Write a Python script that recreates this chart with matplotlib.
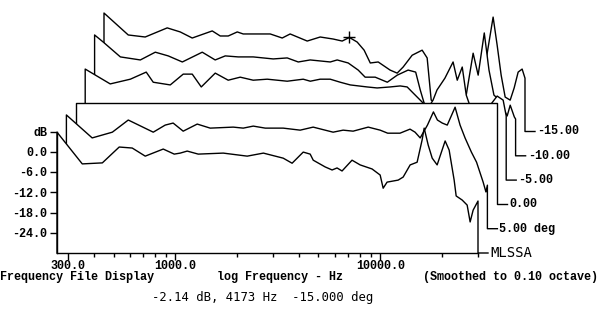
import matplotlib
matplotlib.use("Agg")
import matplotlib.pyplot as plt
from matplotlib.ticker import NullFormatter
import numpy as np

# Off-axis responses normalised to the on-axis one, front slice first.
slice_labels = ["MLSSA", "5.00 deg", "0.00", "-5.00", "-10.00", "-15.00"]

freq0 = [265, 352, 441, 533, 617, 714, 874, 989, 1058, 1144, 1295, 1715, 2245, 2692, 3364, 3717,
         4212, 4554, 4713, 5390, 5826, 6159, 6515, 7287, 7984, 9126, 9995, 10338, 10803, 12239,
         12943, 13999, 15140, 16014, 16386, 17143, 17936, 18957, 20741, 21694, 22950, 23475,
         25105, 26557, 27464, 28405, 30000]
db0 = [5.8, -3.6, -3.3, 1.4, 1.1, -1.3, 0.8, -0.7, -0.4, 0.2, -0.7, -0.4, -1.3, -0.4, -1.9, -3.4,
       -0.1, -0.7, -2.5, -4.5, -5.4, -4.8, -5.7, -2.5, -3.9, -5.1, -6.9, -10.8, -9.0, -8.4,
       -7.5, -3.9, -3.1, 3.5, 7.0, 2.0, -1.9, -3.9, 3.2, 0.5, -8.4, -13.1,
       -14.3, -15.8, -20.8, -17.3, -14.6]

freq1 = [265, 354, 444, 531, 703, 804, 879, 984, 1152, 1333, 1726, 1932, 2162, 2474, 3026, 3662,
         4237, 5302, 5933, 6637, 7865, 8993, 9787, 11238, 12579, 13310, 14100, 15300, 16360,
         17110, 18070, 19110, 20870, 22070, 23340, 25060, 26560, 28600, 29500, 30000]
db1 = [3.7, -3.1, -1.4, 2.2, -1.4, 0.7, 1.3, -1.1, 1.0, -0.2, 0.1, -0.2, 0.4, -0.2, -0.2, -0.8,
       0.1, -1.4, -0.8, -1.1, 0.1, -0.8, -1.7, -1.7, -0.5, -1.4, -3.1, 0.7, 4.6,
       2.2, 1.3, 0.7, 6.0, 0.7, -3.1, -7.3, -10.3, -16.2, -19.1, -17.1]

freq2 = [265, 30000]
db2 = [0.0, 0.0]

freq3 = [265, 351, 440, 526, 569, 689, 797, 882, 976, 1142, 1321, 1512, 1749, 2048, 2563, 3068,
         3322, 3711, 4155, 4650, 5203, 6289, 7039, 8144, 9117, 9861, 10550, 11680, 12460, 13190,
         13790, 15070, 16520, 17310, 18310, 19150, 20450, 22340, 24420, 27100, 28990, 30000]
db3 = [2.9, -1.5, -0.1, 2.0, -1.0, -1.8, 1.4, 1.4, -2.4, 1.7, -0.4, 0.5, -0.4, -0.1, -0.7, -0.1,
       -0.7, -0.1, -0.1, -1.0, -1.8, -2.4, -2.7, -2.4, -2.1, -2.4, -4.2, -6.9, -8.7, -6.3,
       -3.3, 0.2, 5.0, -0.4, 3.5, -4.8, -9.8, -10.7, -8.7, -5.1, -6.3, -11.0]

freq4 = [265, 292, 354, 443, 524, 606, 710, 888, 1027, 1150, 1330, 1574, 1971, 2306, 2611, 2985,
         3345, 3740, 4043, 4577, 5120, 5535, 6197, 7101, 7937, 8970, 9765, 10280, 10740, 12840,
         15250, 17230, 18620, 19700, 21100, 22250, 23520, 24990, 27290, 28240, 29580, 30000]
db4 = [5.8, 3.7, -0.7, -1.6, 0.7, -0.4, -2.2, 0.7, -1.6, -0.4, -0.7, -0.7, -1.3, -1.0, -2.2, -1.6,
       -1.9, -2.2, -1.6, -2.5, -4.6, -6.7, -6.7, -8.2, -6.1, -4.6, -5.2, -10.5, -14.4, -17.9,
       -16.5, -12.0, 0.4, -6.1, 6.4, -4.6, -12.0, -13.5, -18.2, -15.0, -18.5, -19.1]

freq5 = [265, 348, 421, 539, 624, 714, 894, 978, 1070, 1184, 1266, 1416, 1715, 1962, 2145, 2598,
         3006, 3478, 3848, 4173, 4554, 4924, 5276, 5767, 6591, 7136, 7633, 8446, 9449, 9995,
         10460, 12240, 13070, 16200, 17920, 19380, 20970, 21940, 22950, 24010, 25400, 26560,
         27780, 29050, 30000]
db5 = [5.1, -1.4, -2.0, 0.7, -0.5, -2.3, -0.2, -1.7, -1.7, -0.5, -1.1, -1.1, -1.1, -2.3, -1.1, -3.2,
       -2.0, -2.6, -3.2, -2.14, -3.5, -5.9, -9.7, -9.4, -11.8, -12.7, -10.9, -7.4, -5.9, -8.2,
       -20.7, -23.1, -23.7, -22.2, -17.7, -8.8, 3.9, -4.4, -13.3, -19.8, -20.7, -17.1,
       -12.4, -11.5, -14.2]

cursor_freq = 4173
cursor_db = -2.14
cursor_slice = 5

major_ticks = [300, 1000, 10000]
major_labels = ["300.0", "1000.0", "10000.0"]
minor_ticks = [400, 500, 600, 700, 800, 900, 2000, 3000, 4000, 5000, 6000, 7000, 8000, 9000,
               20000, 30000]
ytick_vals = [6, 0, -6, -12, -18, -24]
ytick_labels = ["dB", "0.0", "-6.0", "-12.0", "-18.0", "-24.0"]

slices = [(freq0, db0), (freq1, db1), (freq2, db2), (freq3, db3), (freq4, db4), (freq5, db5)]

# waterfall step per slice: right by 9.4 px (205 px/decade), up by 7.2 dB
DX = 10 ** (9.4 / 205)
DY = 7.2
LEAD = 10 ** (10 / 205)
YMIN, YMAX = -30, 6

MONO = "Liberation Mono"
FS = 8.5
txt = dict(fontfamily=MONO, fontweight="bold", fontsize=FS, color="black")

fig = plt.figure(figsize=(6.0, 3.28), dpi=100)
ax = fig.add_axes([57 / 600, 75 / 328, 421 / 600, 121.5 / 328])
ax.set_xscale("log")
ax.set_xlim(265, 30000)
ax.set_ylim(YMIN, YMAX)
ax.patch.set_alpha(0)

n = len(slices)
for k in range(n - 1, -1, -1):
    f = np.asarray(slices[k][0], dtype=float) * DX ** k
    d = np.asarray(slices[k][1], dtype=float) + DY * k
    base = YMIN + DY * k
    xs = np.r_[f[0], f, f[-1]]
    ys = np.r_[base, d, base]
    z = 2 + 2 * (n - 1 - k)
    # white fill hides the slices behind (hidden-line look)
    ax.fill(xs, ys, color="white", lw=0, zorder=z, clip_on=False)
    ax.plot(np.r_[xs, f[-1] * LEAD], np.r_[ys, base], color="black", lw=1.0,
            zorder=z + 1, clip_on=False)
    if k == 0:
        ax.annotate(slice_labels[k], xy=(f[-1] * LEAD, base), xytext=(2, 0),
                    textcoords="offset points", va="center", ha="left",
                    fontfamily="DejaVu Sans Mono", fontsize=10, annotation_clip=False, zorder=30)
    else:
        ax.annotate(slice_labels[k], xy=(f[-1] * LEAD, base), xytext=(1.5, 0),
                    textcoords="offset points", va="center", ha="left",
                    annotation_clip=False, zorder=30, **txt)
    if k == cursor_slice:
        ax.plot(cursor_freq * DX ** k, cursor_db + DY * k, marker="+", ms=8, mew=1.0,
                color="black", zorder=z + 1.5, clip_on=False)

for side in ("top", "right"):
    ax.spines[side].set_visible(False)
for side in ("left", "bottom"):
    ax.spines[side].set_zorder(40)
    ax.spines[side].set_linewidth(1.0)

ax.set_xticks(major_ticks, major_labels)
ax.set_xticks(minor_ticks, minor=True)
ax.xaxis.set_minor_formatter(NullFormatter())
ax.set_yticks(ytick_vals, ytick_labels)
ax.tick_params(axis="y", which="major", direction="out", length=5, width=1, pad=2)
ax.tick_params(axis="x", which="major", direction="out", length=5, width=1, pad=0.3)
ax.tick_params(axis="x", which="minor", direction="out", length=3, width=1)
for lab in ax.get_xticklabels() + ax.get_yticklabels():
    lab.set_fontfamily(MONO)
    lab.set_fontweight("bold")
    lab.set_fontsize(FS)

row = 1 - 277 / 328
fig.text(0 / 600, row, "Frequency File Display", ha="left", va="center", **txt)
fig.text(217 / 600, row, "log Frequency - Hz", ha="left", va="center", **txt)
fig.text(598 / 600, row, "(Smoothed to 0.10 octave)", ha="right", va="center", **txt)
fig.text(152 / 600, 1 - 297 / 328, "-2.14 dB, 4173 Hz  -15.000 deg", ha="left", va="center",
         fontfamily="DejaVu Sans Mono", fontsize=8.8, color="black")

fig.savefig("out.png", dpi=100, facecolor="white")
